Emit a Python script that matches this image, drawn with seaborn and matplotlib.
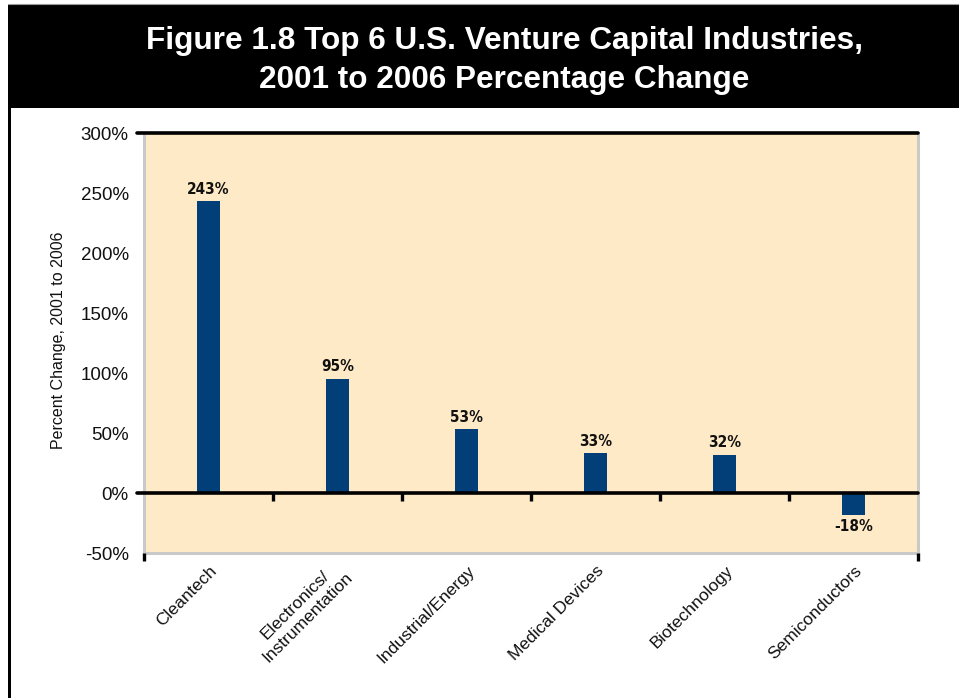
import numpy as np
import pandas as pd
import seaborn as sns
import matplotlib.pyplot as plt
from matplotlib import font_manager as fm
from matplotlib.patches import Rectangle
from matplotlib.lines import Line2D
from matplotlib.transforms import ScaledTranslation

# ---- data ----
categories = ["Cleantech", "Electronics/\nInstrumentation", "Industrial/Energy",
              "Medical Devices", "Biotechnology", "Semiconductors"]
pct_change = [243, 95, 53, 33, 32, -18]
y_ticks = [-50, 0, 50, 100, 150, 200, 250, 300]
y_tick_labels = ["-50%", "0%", "50%", "100%", "150%", "200%", "250%", "300%"]
title_lines = ["Figure 1.8 Top 6 U.S. Venture Capital Industries,",
               "2001 to 2006 Percentage Change"]
y_label = "Percent Change, 2001 to 2006"

# ---- styling ----
sns.set_theme(style="white")
plt.rcParams["font.family"] = ["Liberation Sans", "DejaVu Sans"]

installed = {f.name for f in fm.fontManager.ttflist}
if "Liberation Sans Narrow" in installed:
    narrow = dict(family=["Liberation Sans Narrow", "DejaVu Sans"])
else:
    narrow = dict(family=["DejaVu Sans"], stretch="condensed")

W, H = 959, 698
BAR = "#023F78"
FACE = "#FEEAC6"
GREY = "#C9C9C9"


def fx(px):
    return px / W


def fy(py):
    return 1 - py / H


fig = plt.figure(figsize=(W / 100, H / 100), dpi=100)
fig.patch.set_facecolor("white")

# header band and frame
fig.add_artist(Line2D([fx(8), 1], [fy(4), fy(4)], color="#9a9a9a", lw=0.8,
                      transform=fig.transFigure))
fig.add_artist(Rectangle((fx(8), fy(108)), 1 - fx(8), fy(5) - fy(108),
                         transform=fig.transFigure, color="black", lw=0))
fig.add_artist(Rectangle((fx(8), 0), fx(3), fy(108), transform=fig.transFigure,
                         color="black", lw=0))

# title, fitted to the header width
t1 = fig.text(fx(504), fy(49), title_lines[0], color="white", ha="center",
              va="baseline", fontsize=22.5, fontweight="bold")
t2 = fig.text(fx(504), fy(88), title_lines[1], color="white", ha="center",
              va="baseline", fontsize=22.5, fontweight="bold")
fig.canvas.draw()
w1 = t1.get_window_extent().width
scale = 716 / w1
t1.set_fontsize(22.5 * scale)
t2.set_fontsize(22.5 * scale)

# ---- plot area ----
ax = fig.add_axes([fx(144), fy(553), fx(918) - fx(144), fy(133) - fy(553)])
ax.set_facecolor(FACE)

df = pd.DataFrame({"industry": categories, "change": pct_change})
sns.barplot(data=df, x="industry", y="change", color=BAR, saturation=1,
            width=0.18, linewidth=0, edgecolor=BAR, ax=ax, zorder=2)

n = len(categories)
ax.set_xlim(-0.5, n - 0.5)
ax.set_ylim(y_ticks[0], y_ticks[-1])
ax.set_xlabel("")
ax.set_ylabel("")

ax.set_yticks(y_ticks, y_tick_labels)
ax.tick_params(axis="y", length=0, pad=11, labelsize=13.5, colors="#111111")
ax.set_xticks(range(n))
ax.set_xticklabels(categories, rotation=45, ha="right", va="center",
                   rotation_mode="anchor", fontsize=12.5, color="#111111")
ax.tick_params(axis="x", length=0, pad=11)
for lbl in ax.get_xticklabels():
    lbl.set_multialignment("center")
    lbl.set_transform(lbl.get_transform() +
                      ScaledTranslation(6 / 100, 0, fig.dpi_scale_trans))

for side in ("left", "bottom", "right"):
    ax.spines[side].set_color(GREY)
    ax.spines[side].set_linewidth(2.2)
ax.spines["top"].set_visible(False)

# black top line and zero line, both reaching a little past the left edge
ext = -7 / 774
ax.axhline(y_ticks[-1], xmin=ext, xmax=1, color="black", lw=2.6,
           clip_on=False, zorder=4)
ax.axhline(0, xmin=ext, xmax=1, color="black", lw=2.6, clip_on=False,
           zorder=4)

# category boundary ticks under the zero line, and corner ticks
bounds = np.arange(n - 1) + 0.5
ax.plot(bounds, np.zeros_like(bounds), ls="none", marker=3, ms=5.5, mew=2.4,
        color="black", clip_on=False, zorder=4)
ax.plot([-0.5, n - 0.5], [y_ticks[0]] * 2, ls="none", marker=3, ms=5.5,
        mew=2.4, color="black", clip_on=False, zorder=4)

# value labels
for i, v in enumerate(pct_change):
    ax.annotate(f"{v}%", (i, v), xytext=(0, 3.5 if v >= 0 else -3.5),
                textcoords="offset points", ha="center",
                va="bottom" if v >= 0 else "top", fontsize=11,
                fontweight="bold", color="#111111", **narrow)

fig.text(fx(58), fy(340), y_label, rotation=90, ha="center", va="center",
         fontsize=11.5, color="#111111")

fig.savefig("out.png", dpi=100)
